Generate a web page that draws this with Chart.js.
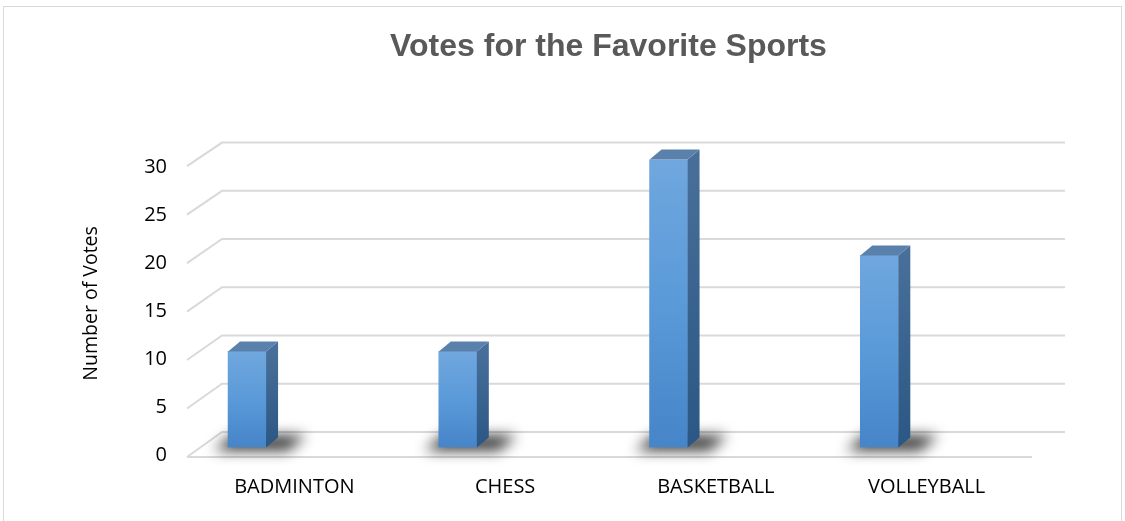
<!DOCTYPE html>
<html>
<head>
<meta charset="utf-8">
<script src="https://cdn.jsdelivr.net/npm/chart.js@4.4.1/dist/chart.umd.min.js"></script>
<style>
    html, body { margin: 0; padding: 0; background: #fff; }
    #wrap { position: relative; width: 1125px; height: 521px; overflow: hidden; }
    #frame { position: absolute; left: 3px; top: 6px; width: 1117px; height: 600px; border: 1px solid #d9d9d9; pointer-events: none; }
</style>
</head>
<body>
<div id="wrap">
    <canvas id="myChart" width="1125" height="521"></canvas>
    <div id="frame"></div>
</div>
<script>
// Datos del gráfico
const sports = ['BADMINTON', 'CHESS', 'BASKETBALL', 'VOLLEYBALL'];
const votes = [10, 10, 30, 20];
const yTicks = [0, 5, 10, 15, 20, 25, 30];
const chartTitle = 'Votes for the Favorite Sports';
const yTitle = 'Number of Votes';

// Profundidad del efecto 3D
const DEPTH = { x: 12, y: -10 };
const WALL = { x: 35, back: -15.4, front: 9.6 };

function frontY(ys, v) {
    const y = ys.getPixelForValue(v);
    return y + WALL.front + (y - ys.getPixelForValue(0)) * 0.01;
}

function backY(ys, v) {
    const y = ys.getPixelForValue(v);
    return y + WALL.back + (y - ys.getPixelForValue(0)) * 0.005;
}

// Plugin para dibujar paredes, sombras y caras laterales
const depthPlugin = {
    id: 'depth',
    beforeDatasetsDraw(chart) {
        const ctx = chart.ctx;
        const area = chart.chartArea;
        const ys = chart.scales.y;
        ctx.save();
        ctx.strokeStyle = '#d9d9d9';
        ctx.lineWidth = 2;
        yTicks.forEach(v => {
            const yb = backY(ys, v);
            const yf = frontY(ys, v);
            ctx.beginPath();
            ctx.moveTo(area.left, yf);
            ctx.lineTo(area.left + WALL.x, yb);
            ctx.lineTo(area.right + WALL.x, yb);
            ctx.stroke();
        });
        // Línea frontal del piso
        const y0 = frontY(ys, 0);
        ctx.beginPath();
        ctx.moveTo(area.left, y0);
        ctx.lineTo(area.right + 2, y0);
        ctx.stroke();

        // Sombras bajo las barras
        const meta = chart.getDatasetMeta(0);
        ctx.filter = 'blur(7px)';
        ctx.fillStyle = 'rgba(0, 0, 0, 0.8)';
        meta.data.forEach(bar => {
            const x0 = bar.x - bar.width / 2;
            const x1 = bar.x + bar.width / 2;
            const b = bar.base;
            ctx.beginPath();
            ctx.moveTo(x0 - 14, b + 3);
            ctx.lineTo(x1 + 22, b + 3);
            ctx.lineTo(x1 + 40, b - 12);
            ctx.lineTo(x0 + 4, b - 12);
            ctx.closePath();
            ctx.fill();
        });
        ctx.restore();
    },
    afterDatasetsDraw(chart) {
        const ctx = chart.ctx;
        const meta = chart.getDatasetMeta(0);
        ctx.save();
        meta.data.forEach(bar => {
            const x0 = bar.x - bar.width / 2;
            const x1 = bar.x + bar.width / 2;
            const top = bar.y;
            const b = bar.base;

            // Cara lateral
            const side = ctx.createLinearGradient(0, top, 0, b);
            side.addColorStop(0, '#476f99');
            side.addColorStop(1, '#2b5784');
            ctx.fillStyle = side;
            ctx.beginPath();
            ctx.moveTo(x1, top);
            ctx.lineTo(x1 + DEPTH.x, top + DEPTH.y);
            ctx.lineTo(x1 + DEPTH.x, b + DEPTH.y);
            ctx.lineTo(x1, b);
            ctx.closePath();
            ctx.fill();

            // Cara superior
            ctx.fillStyle = '#5a81ab';
            ctx.beginPath();
            ctx.moveTo(x0, top);
            ctx.lineTo(x1, top);
            ctx.lineTo(x1 + DEPTH.x, top + DEPTH.y);
            ctx.lineTo(x0 + DEPTH.x, top + DEPTH.y);
            ctx.closePath();
            ctx.fill();
        });
        ctx.restore();
    }
};

// Degradado de la cara frontal
function frontColor(context) {
    const chart = context.chart;
    if (!chart.chartArea) return '#5b9bd5';
    const ys = chart.scales.y;
    const top = ys.getPixelForValue(votes[context.dataIndex]);
    const g = chart.ctx.createLinearGradient(0, top, 0, ys.getPixelForValue(0));
    g.addColorStop(0, '#70a7de');
    g.addColorStop(0.5, '#5a9ad9');
    g.addColorStop(1, '#4585c8');
    return g;
}

const ctx = document.getElementById('myChart').getContext('2d');
const myChart = new Chart(ctx, {
    type: 'bar',
    data: {
        labels: sports,
        datasets: [{
            label: 'Votes',
            data: votes.map((v, i) => ({ x: i, y: v })),
            xAxisID: 'xb',
            backgroundColor: frontColor,
            borderWidth: 0,
            barThickness: 38
        }]
    },
    options: {
        responsive: false,
        animation: false,
        layout: { padding: { top: 10, left: 80, right: 95, bottom: 21 } },
        plugins: {
            legend: { display: false },
            tooltip: { enabled: false },
            title: {
                display: true,
                text: chartTitle,
                fullSize: false,
                color: '#595959',
                font: { family: 'Liberation Sans', size: 32, weight: 'bold' },
                padding: { top: 18, bottom: 93 }
            }
        },
        scales: {
            x: {
                type: 'category',
                offset: true,
                afterFit: s => { s.height = 52.6; },
                grid: { display: false, drawTicks: false },
                border: { display: false },
                ticks: {
                    color: '#000',
                    padding: 28,
                    labelOffset: 2,
                    maxRotation: 0,
                    font: { family: 'Open Sans', size: 20 }
                }
            },
            xb: {
                type: 'linear',
                display: false,
                offset: false,
                min: -0.285,
                max: 3.715,
                afterFit: s => { s.height = 0; }
            },
            y: {
                min: 0,
                max: 30,
                afterFit: s => { s.width = 107; },
                grid: { display: false, drawTicks: false },
                border: { display: false },
                title: {
                    display: true,
                    text: yTitle,
                    color: '#000',
                    padding: 0,
                    font: { family: 'Open Sans', size: 19.5 }
                },
                ticks: {
                    stepSize: 5,
                    color: '#000',
                    padding: 20,
                    labelOffset: 8,
                    font: { family: 'Open Sans', size: 20 }
                }
            }
        }
    },
    plugins: [depthPlugin]
});
</script>
</body>
</html>
